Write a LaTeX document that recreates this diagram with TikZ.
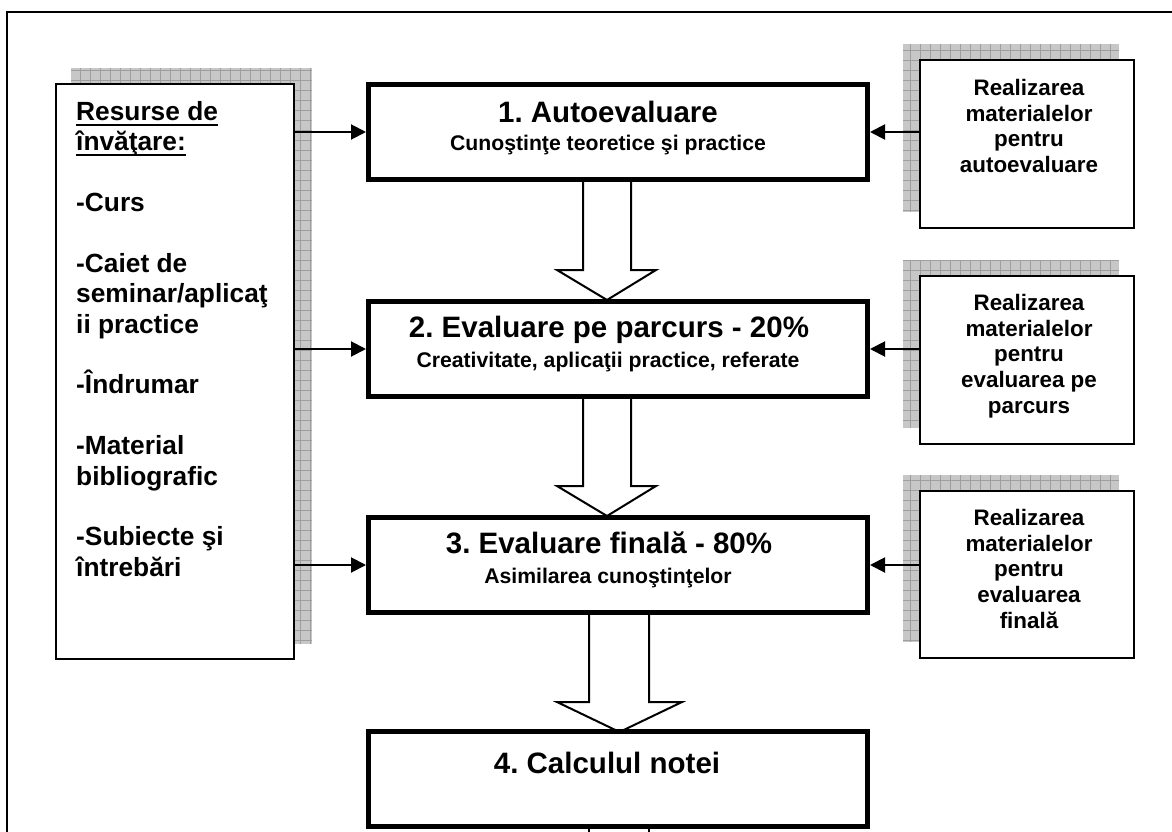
\documentclass[tikz,border=0pt]{standalone}
\usepackage{fontspec}
\setmainfont{Liberation Sans}
\usetikzlibrary{arrows.meta}
\frenchspacing
\newcommand\myuline[1]{\setbox0\hbox{#1}\rlap{\rule[-5.5pt]{\wd0}{2pt}}\box0}
\newcommand\shadowrect[4]{%
  \fill[shadowfill] (#1,#2) rectangle (#3,#4);
  \begin{scope}
    \clip (#1,#2) rectangle (#3,#4);
    \draw[gridline,step=10pt] (#1,#4) grid (#3,#2);
  \end{scope}}
\begin{document}
\begin{tikzpicture}[x=1pt,y=-1pt,
  shadowfill/.style={fill=black!22},
  gridline/.style={draw=black!38,line width=0.8pt},
  mainbox/.style={draw,line width=5pt,fill=white,minimum width=499pt,minimum height=95pt,inner sep=0pt},
  sidebox/.style={draw,line width=2pt,fill=white,inner sep=0pt},
  conn/.style={line width=2pt,-{Triangle[length=15pt,width=15pt]}},
  blockarr/.style={draw,line width=2pt,fill=white,line join=miter},
  frame/.style={line width=2.5pt},
  titlefont/.style={font=\bfseries\fontsize{29.5}{34}\selectfont},
  subfont/.style={font=\bfseries\fontsize{21.2}{25}\selectfont},
  sidefont/.style={font=\bfseries\fontsize{22.4}{25.7}\selectfont},
  leftfont/.style={font=\bfseries\fontsize{26.3}{30.4}\selectfont}]
\useasboundingbox (0,0) rectangle (1172,832);
\clip (0,0) rectangle (1172,832);
\fill[white] (0,0) rectangle (1172,832);
% outer frame
\draw[frame] (1180,12) -- (7,12) -- (7,840);
% shadows
\shadowrect{71}{68}{312}{644}
\shadowrect{903}{44}{1119}{212}
\shadowrect{903}{260}{1119}{428}
\shadowrect{903}{475}{1119}{642}
% block arrows
\draw[blockarr] (583,178) -- (583,270) -- (557,270) -- (607,300) -- (656,270) -- (631,270) -- (631,178) -- cycle;
\draw[blockarr] (583,396) -- (583,486) -- (557,486) -- (607,516) -- (656,486) -- (631,486) -- (631,396) -- cycle;
\draw[blockarr] (589,612) -- (589,702) -- (557,702) -- (619.5,732) -- (682,702) -- (649,702) -- (649,612) -- cycle;
\draw[blockarr] (589,826) rectangle (649,845);
% boxes
\node[mainbox] (c1) at (618,132) {};
\node[mainbox] (c2) at (618,349) {};
\node[mainbox] (c3) at (618,565) {};
\node[mainbox] (c4) at (618,779) {};
\node[sidebox,minimum width=238pt,minimum height=575pt] (lb) at (175,371.5) {};
\node[sidebox,minimum width=214pt,minimum height=168pt] (r1) at (1027,144) {};
\node[sidebox,minimum width=214pt,minimum height=168pt] (r2) at (1027,360) {};
\node[sidebox,minimum width=214pt,minimum height=167pt] (r3) at (1027,574.5) {};
% texts
\node[titlefont,anchor=base,inner sep=0pt] (t1) at (608,123) {1. Autoevaluare};
\node[subfont,anchor=base,inner sep=0pt] (s1) at (608,150) {Cunoştinţe teoretice şi practice};
\node[titlefont,anchor=base,inner sep=0pt] (t2) at (609,337) {2. Evaluare pe parcurs - 20\%};
\node[subfont,anchor=base,inner sep=0pt] (s2) at (608,367) {Creativitate, aplicaţii practice, referate};
\node[titlefont,anchor=base,inner sep=0pt] (t3) at (609,553) {3. Evaluare finală - 80\%};
\node[subfont,anchor=base,inner sep=0pt] (s3) at (608,583) {Asimilarea cunoştinţelor};
\node[titlefont,anchor=base,inner sep=0pt] (t4) at (607,773) {4. Calculul notei};
\node[leftfont,anchor=north west,align=left,inner sep=0pt] (lt) at (76,101)
  {\myuline{Resurse de}\\ \myuline{învăţare:}\\[30.4pt] -Curs\\[30.4pt] -Caiet de\\ seminar/aplicaţ\\ ii practice\\[30.4pt] -Îndrumar\\[30.4pt] -Material\\ bibliografic\\[30.4pt] -Subiecte şi\\ întrebări};
\node[sidefont,anchor=north,align=center,inner sep=0pt] (r1t) at (1029,79)
  {Realizarea\\ materialelor\\ pentru\\ autoevaluare};
\node[sidefont,anchor=north,align=center,inner sep=0pt] (r2t) at (1029,294)
  {Realizarea\\ materialelor\\ pentru\\ evaluarea pe\\ parcurs};
\node[sidefont,anchor=north,align=center,inner sep=0pt] (r3t) at (1029,509)
  {Realizarea\\ materialelor\\ pentru\\ evaluarea\\ finală};
% connectors
\draw[conn] (lb.east |- c1.west) -- (c1.west);
\draw[conn] (lb.east |- c2.west) -- (c2.west);
\draw[conn] (lb.east |- c3.west) -- (c3.west);
\draw[conn] (r1.west |- c1.east) -- (c1.east);
\draw[conn] (r2.west |- c2.east) -- (c2.east);
\draw[conn] (r3.west |- c3.east) -- (c3.east);
\end{tikzpicture}
\end{document}
